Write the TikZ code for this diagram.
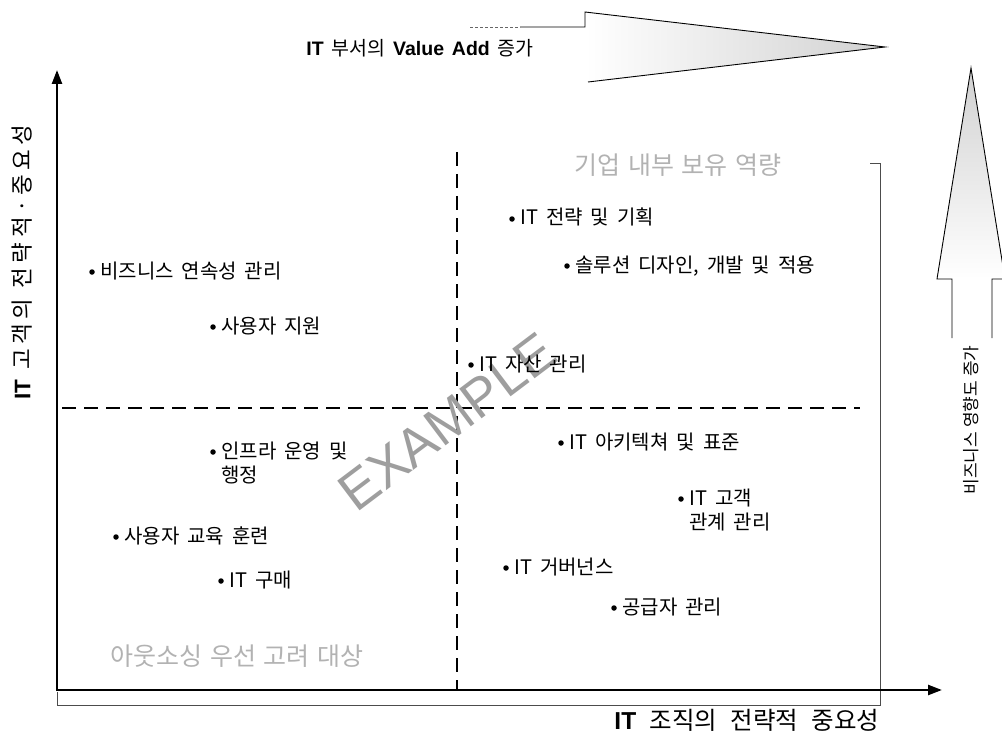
\documentclass[tikz,border=0pt]{standalone}
\usepackage{fontspec}
\setmainfont{Noto Sans CJK KR}
\newfontfamily\lat{Liberation Sans}
\newfontfamily\krwide[LetterSpace=20]{Noto Sans CJK KR}
\usetikzlibrary{arrows.meta}
\tikzset{
  item/.style={anchor=base west, inner sep=0pt, align=left,
    font=\fontsize{20}{24}\selectfont\spaceskip 0.4em\relax},
  bul/.style={circle, fill=black, inner sep=0pt, minimum size=5.5pt},
  axis/.style={line width=2.4pt, {Triangle[length=14pt,width=10pt]}-{Triangle[length=14pt,width=10pt]}},
  qdash/.style={line width=2.6pt, dash pattern=on 14pt off 8pt},
  brk/.style={line width=0.8pt, black!70},
  arrline/.style={line width=0.9pt, black},
  faded/.style={inner sep=0pt, text=black!30,
    font=\fontsize{25}{29}\selectfont\spaceskip 0.3em\relax},
  wm/.style={inner sep=0pt, text=black!38, font=\lat\fontsize{54}{60}\selectfont},
  xlbl/.style={inner sep=0pt, font=\fontsize{24.5}{28}\selectfont\spaceskip 0.55em\relax},
  ylbl/.style={inner sep=0pt, font=\krwide\fontsize{22.5}{26}\selectfont\spaceskip 0.45em\relax},
  toplbl/.style={inner sep=0pt, font=\fontsize{19.5}{23}\selectfont\spaceskip 0.4em\relax},
  sidelbl/.style={inner sep=0pt, font=\fontsize{17}{20}\selectfont\spaceskip 0.25em\relax}
}
\begin{document}
\begin{tikzpicture}[x=1pt,y=-1pt]
\useasboundingbox (0,0) rectangle (1002,733);

% top arrow
\coordinate (ta1) at (470,27);
\coordinate (ta2) at (585,27);
\coordinate (ta3) at (585,12);
\coordinate (ta4) at (885,47);
\coordinate (ta5) at (588,82);
\shade[left color=white, middle color=white, right color=black!18] (ta3) -- (ta4) -- (ta5) -- cycle;
\draw[arrline, black!60, densely dashed] (ta1) -- (520,27);
\draw[arrline] (520,27) -- (ta2) -- (ta3) -- (ta4) -- (ta5);
\node[toplbl] (toplabel) at (420,48) {{\lat\bfseries IT} 부서의 {\lat\bfseries Value Add} 증가};

% right arrow
\begin{scope}
\clip (0,0) rectangle (1002,733);
\coordinate (ra1) at (952,338);
\coordinate (ra2) at (952,279);
\coordinate (ra3) at (937,279);
\coordinate (ra4) at (971,68);
\coordinate (ra5) at (1005,279);
\coordinate (ra6) at (992,279);
\coordinate (ra7) at (992,338);
\shade[top color=black!18, middle color=white, bottom color=white] (ra4) -- (ra5) -- (ra3) -- cycle;
\draw[arrline] (ra1) -- (ra2) -- (ra3) -- (ra4) -- (ra5) -- (ra6) -- (ra7);
\end{scope}
\node[sidelbl, rotate=90] (sidelabel) at (971,420) {비즈니스 영향도 증가};

% bracket
\coordinate (b1) at (57,692);
\coordinate (b2) at (57,705);
\coordinate (b3) at (880,705);
\coordinate (b4) at (880,163);
\coordinate (b5) at (870,163);
\draw[brk] (b1) -- (b2) -- (b3) -- (b4) -- (b5);

% quadrant dashes
\coordinate (vd1) at (457,152);
\coordinate (vd2) at (457,690);
\coordinate (hd1) at (62,408);
\coordinate (hd2) at (860,408);
\draw[qdash] (vd1) -- (vd2);
\draw[qdash] (hd1) -- (hd2);

% axes
\coordinate (O) at (57,690);
\coordinate (Ytop) at (57,70);
\coordinate (Xend) at (942,690);
\draw[axis] (Ytop) -- (O) -- (Xend);

% axis labels
\node[ylbl, rotate=90] (ylabel) at (22,262) {{\lat\bfseries IT} 고객의 전략적·중요성};
\node[xlbl] (xlabel) at (747,720) {{\lat\bfseries IT} 조직의 전략적 중요성};

% faded quadrant titles
\node[faded] (q1) at (678,165) {기업 내부 보유 역량};
\node[faded] (q3) at (237,656) {아웃소싱 우선 고려 대상};

% watermark
\node[wm, rotate=37] (wmark) at (447,422) {EXAMPLE};

% items
\node[item] (i1) at (100,278) {비즈니스 연속성 관리};
\node[item] (i2) at (221,333) {사용자 지원};
\node[item] (i3) at (221,482) {인프라 운영 및\\행정};
\node[item] (i4) at (124,543) {사용자 교육 훈련};
\node[item] (i5) at (229,587) {IT 구매};
\node[item] (i6) at (520,225) {IT 전략 및 기획};
\node[item] (i7) at (575,272) {솔루션 디자인, 개발 및 적용};
\node[item] (i8) at (479,371) {IT 자산 관리};
\node[item] (i9) at (569,449) {IT 아키텍쳐 및 표준};
\node[item] (i10) at (689,529) {IT 고객\\관계 관리};
\node[item] (i11) at (514,574) {IT 거버넌스};
\node[item] (i12) at (622,614) {공급자 관리};
\foreach \n in {1,2,4,5,6,7,8,9,11,12}{
  \node[bul] (d\n) at ([shift={(-8,-6)}]i\n.base west) {};
}
\node[bul] (d3) at ([shift={(-8,-30)}]i3.base west) {};
\node[bul] (d10) at ([shift={(-8,-30)}]i10.base west) {};
\end{tikzpicture}
\end{document}
